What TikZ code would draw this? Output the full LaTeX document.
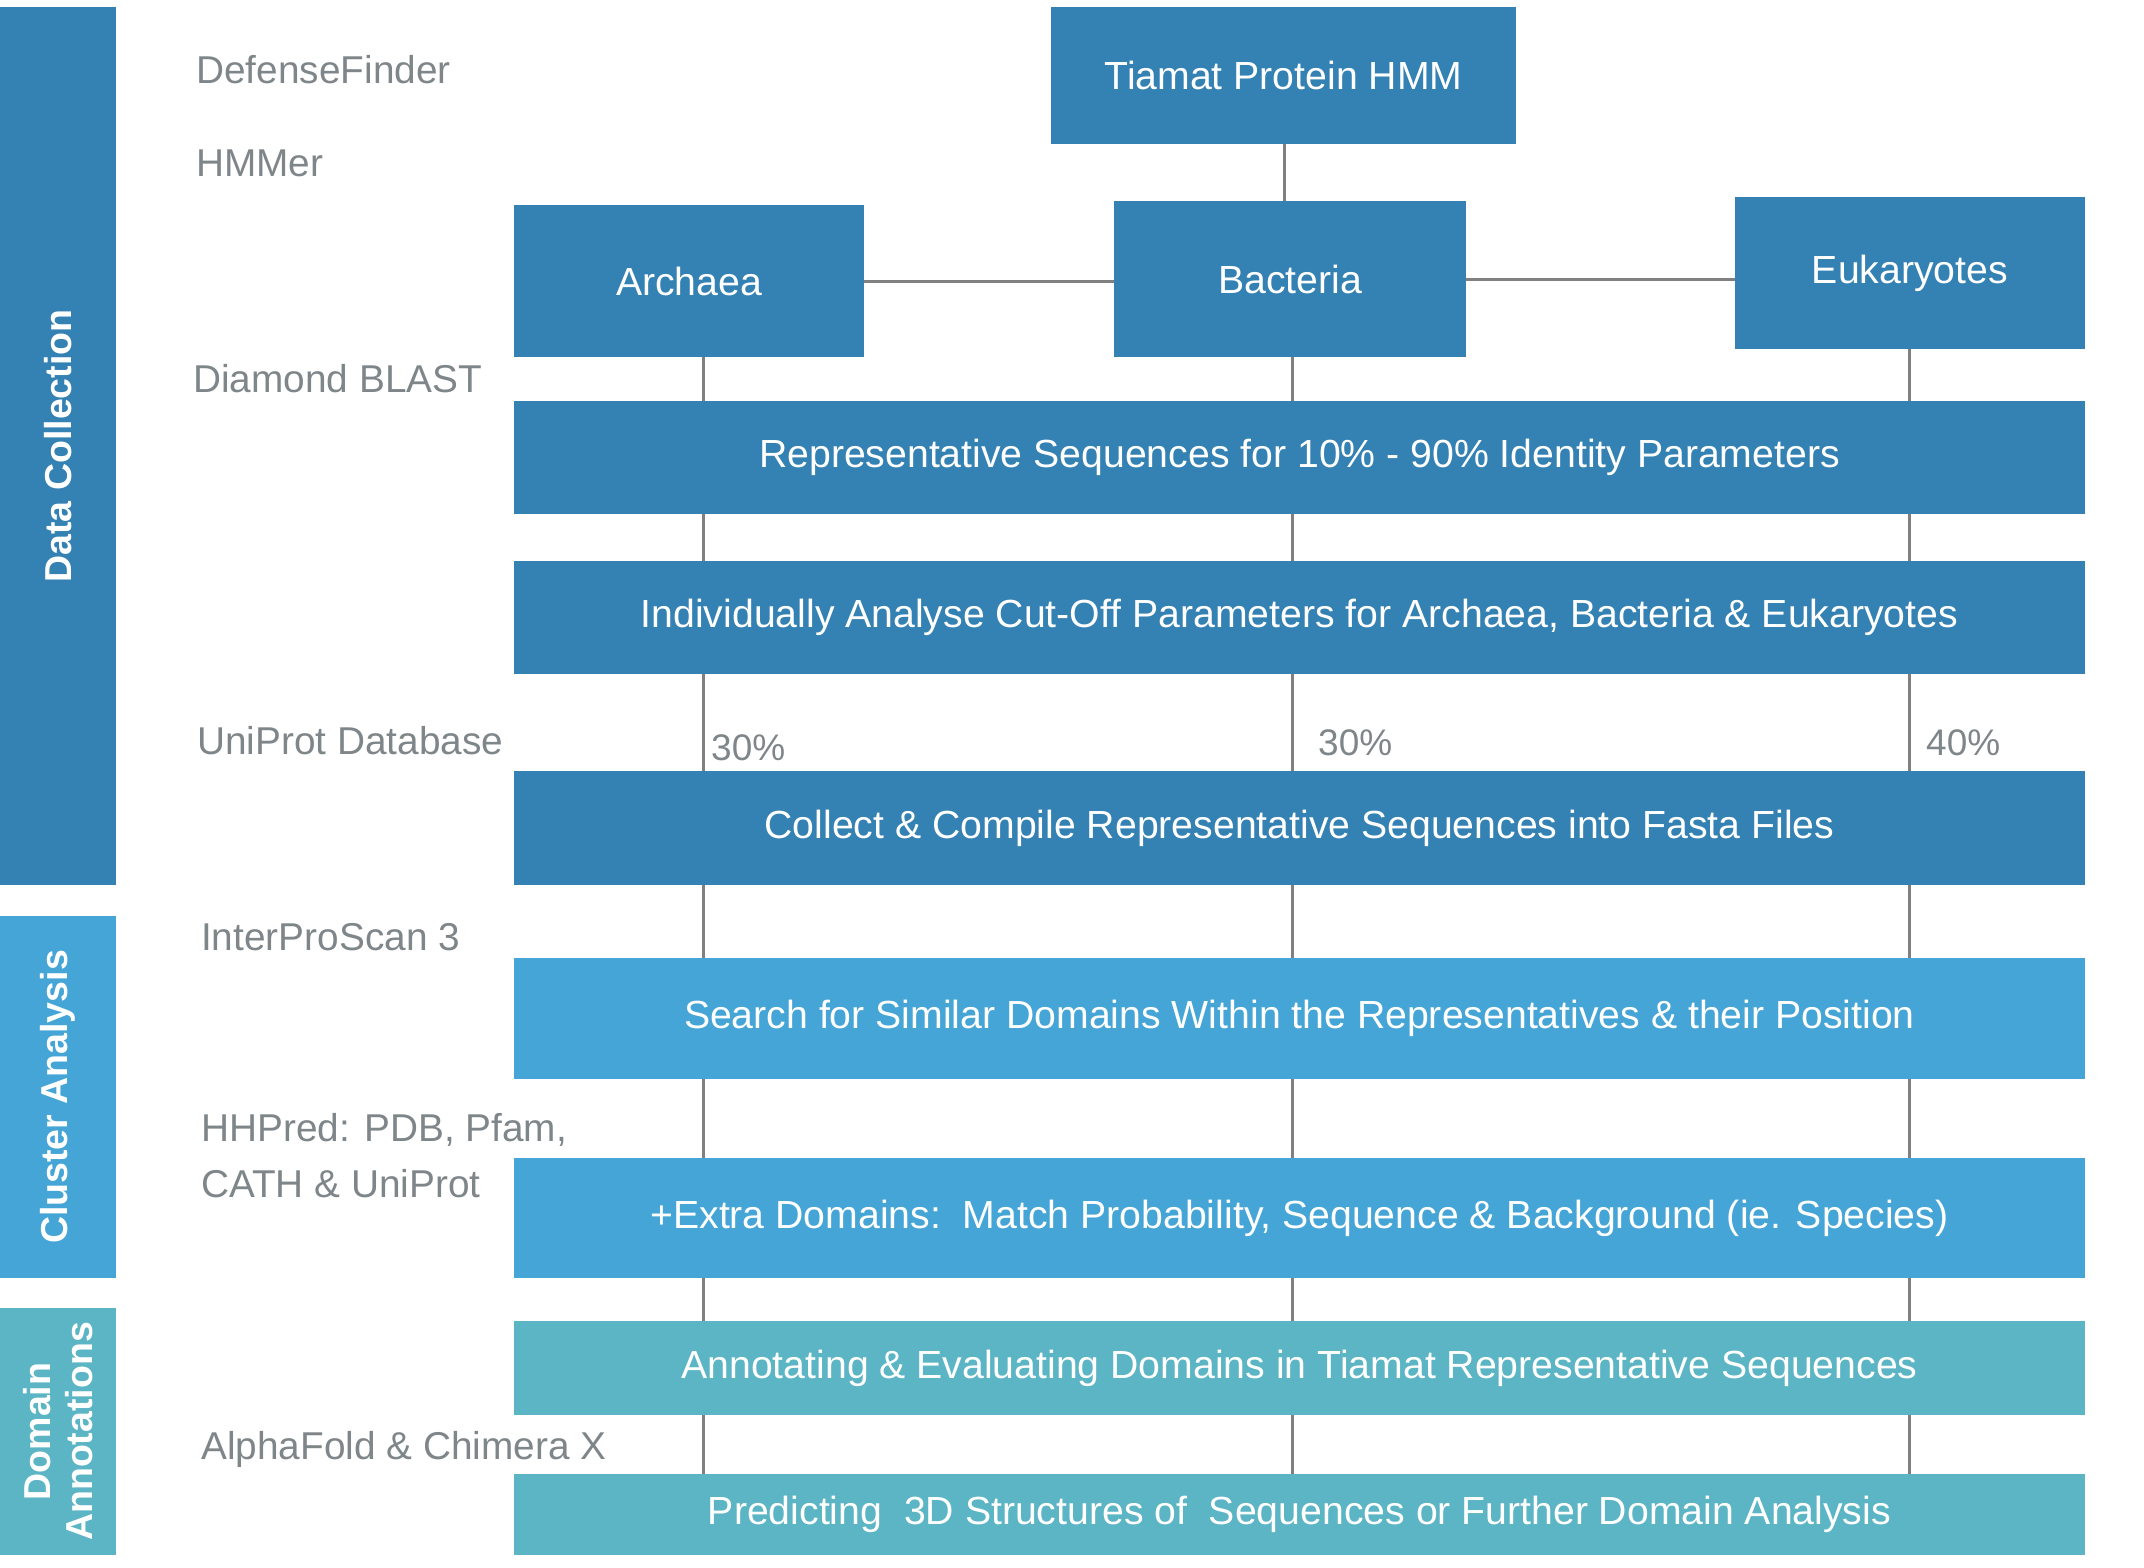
\documentclass[tikz,border=0pt]{standalone}
\usepackage{fontspec}
\setmainfont{Liberation Sans}
\definecolor{dkblue}{HTML}{3481B3}
\definecolor{ltblue}{HTML}{45A5D6}
\definecolor{teal2}{HTML}{5BB5C4}
\definecolor{lngray}{HTML}{808080}
\definecolor{txgray}{HTML}{7F868A}
\begin{document}
\begin{tikzpicture}[x=1pt,y=-1pt,
  box/.style={fill=dkblue,draw=none,inner sep=0pt,text=white,font=\fontsize{39.2}{44}\selectfont,align=center},
  cbox/.style={box,fill=ltblue},
  dbox/.style={box,fill=teal2},
  sidebar/.style={draw=none,inner sep=0pt,text=white,font=\fontsize{37.5}{42}\selectfont\bfseries,align=center},
  tool/.style={anchor=west,inner sep=0pt,text=txgray,font=\fontsize{38.8}{56}\selectfont,align=left},
  pct/.style={anchor=west,inner sep=0pt,text=txgray,font=\fontsize{37}{40}\selectfont},
  conn/.style={draw=lngray,line width=3pt}]
\useasboundingbox (0,0) rectangle (2144,1568);
% side bars
\node[sidebar,fill=dkblue,minimum width=116pt,minimum height=878pt] (dc) at (58,446) {};
\node[sidebar,rotate=90] (dct) at (dc.center) {Data Collection};
\node[sidebar,fill=ltblue,minimum width=116pt,minimum height=362pt] (ca) at (58,1097) {};
\node[sidebar,rotate=90] (cat) at (ca.center) {Cluster Analysis};
\node[sidebar,fill=teal2,minimum width=116pt,minimum height=247pt] (da) at (58,1431.5) {};
\node[sidebar,rotate=90] (dat) at (da.center) {Domain\\Annotations};
% tool labels
\node[tool] (t1) at (196,70) {DefenseFinder};
\node[tool] (t2) at (196,163) {HMMer};
\node[tool] (t3) at (193,379) {Diamond BLAST};
\node[tool] (t4) at (197,741) {UniProt Database};
\node[tool] (t5) at (201,937) {InterProScan 3};
\node[tool] (t6) at (201,1156) {HHPred: PDB, Pfam,\\CATH \& UniProt};
\node[tool] (t7) at (201,1449) {AlphaFold \& Chimera X};
% boxes
\node[box,minimum width=465pt,minimum height=137pt] (tiamat) at (1283.5,75.5) {Tiamat Protein HMM};
\node[box,minimum width=350pt,minimum height=152pt] (arch) at (689,281) {Archaea};
\node[box,minimum width=352pt,minimum height=156pt] (bact) at (1290,279) {Bacteria};
\node[box,minimum width=350pt,minimum height=152pt] (euk) at (1910,273) {Eukaryotes};
\node[box,minimum width=1571pt,minimum height=113pt] (rep) at (1299.5,457.5) {Representative Sequences for 10\% - 90\% Identity Parameters};
\node[box,minimum width=1571pt,minimum height=113pt] (ind) at (1299.5,617.5) {Individually Analyse Cut-Off Parameters for Archaea, Bacteria \& Eukaryotes};
\node[box,minimum width=1571pt,minimum height=114pt] (coll) at (1299.5,828) {Collect \& Compile Representative Sequences into Fasta Files};
\node[cbox,minimum width=1571pt,minimum height=121pt] (search) at (1299.5,1018.5) {Search for Similar Domains Within the Representatives \& their Position};
\node[cbox,minimum width=1571pt,minimum height=120pt] (extra) at (1299.5,1218) {+Extra Domains:\ \ Match Probability, Sequence \& Background (ie. Species)};
\node[dbox,minimum width=1571pt,minimum height=94pt] (annot) at (1299.5,1368) {Annotating \& Evaluating Domains in Tiamat Representative Sequences};
\node[dbox,minimum width=1571pt,minimum height=81pt] (pred) at (1299.5,1514.5) {Predicting\ \ 3D Structures of\ \ Sequences or Further Domain Analysis};
% column coordinates
\coordinate (cA) at (703,0);
\coordinate (cB) at (1292,0);
\coordinate (cE) at (1909,0);
\coordinate (cT) at (1284,0);
% connectors
\draw[conn] (tiamat.south -| cT) -- (bact.north -| cT);
\draw[conn] (arch.east) -- (arch.east -| bact.west);
\draw[conn] (bact.east) -- (bact.east -| euk.west);
\draw[conn] (arch.south -| cA) -- (rep.north -| cA);
\draw[conn] (bact.south -| cB) -- (rep.north -| cB);
\draw[conn] (euk.south -| cE) -- (rep.north -| cE);
\foreach \u/\l in {rep/ind,ind/coll,coll/search,search/extra,extra/annot,annot/pred}{
  \draw[conn] (\u.south -| cA) -- (\l.north -| cA);
  \draw[conn] (\u.south -| cB) -- (\l.north -| cB);
  \draw[conn] (\u.south -| cE) -- (\l.north -| cE);
}
% percentages
\node[pct] (p1) at (711,748) {30\%};
\node[pct] (p2) at (1318,743) {30\%};
\node[pct] (p3) at (1926,743) {40\%};
\end{tikzpicture}
\end{document}
